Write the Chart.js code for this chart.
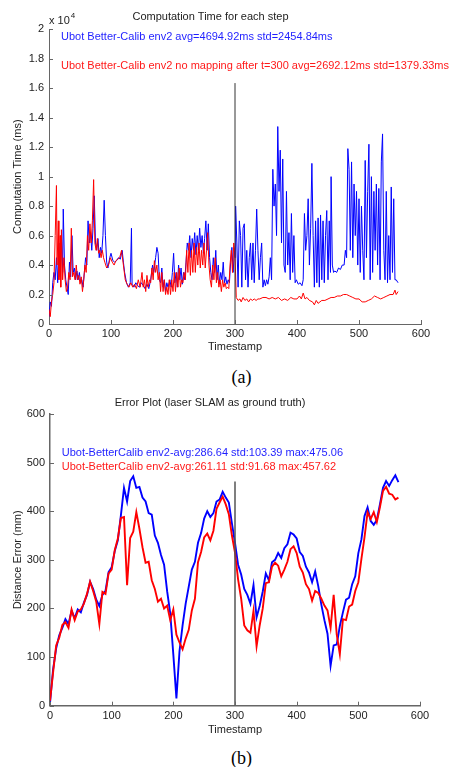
<!DOCTYPE html>
<html><head><meta charset="utf-8">
<script src="https://cdn.jsdelivr.net/npm/chart.js@4.4.1/dist/chart.umd.min.js"></script>
<style>
html,body{margin:0;padding:0;background:#fff;width:449px;height:767px;overflow:hidden;}
.wrap{position:absolute;left:0;width:449px;height:360px;}
.cap{position:absolute;left:17px;width:449px;text-align:center;font-family:"Liberation Serif","Times New Roman",serif;font-size:18px;line-height:20px;color:#000;}
</style></head>
<body>
<div class="wrap" style="top:0"><canvas id="ca" width="449" height="360"></canvas></div>
<div class="cap" style="top:367px">(a)</div>
<div class="wrap" style="top:385px"><canvas id="cb" width="449" height="360"></canvas></div>
<div class="cap" style="top:748px">(b)</div>
<script>
// ---------- DATA ----------
// (a) Computation time per step, [timestamp, ms]
const compBlue = [
[0,500],[2,1500],[4,1200],[6,2800],[8,3500],[10,3000],[12,4500],[14,2800],[16,5500],[18,3200],
[20,6000],[22,3500],[23,7800],[25,4000],[27,3000],[29,2500],[31,2000],[33,4200],[35,3200],[37,6000],
[39,3500],[41,3800],[43,3000],[45,3600],[47,3000],[49,3500],[51,2800],[53,3000],[55,2500],[57,3500],
[59,4500],[61,4000],[63,7000],[65,5500],[67,6200],[69,5000],[71,6500],[73,8700],[75,5500],[77,5000],
[79,5800],[81,4500],[83,5200],[85,4800],[87,6000],[89,8400],[91,6000],[93,4200],[95,3800],[98,4500],
[100,4800],[103,4300],[106,4200],[109,4300],[112,4500],[115,4400],[118,5000],[120,4200],[122,3500],[125,2800],
[128,2500],[131,2800],[133,6500],[134,2700],[137,2500],[140,2800],[143,2600],[146,2500],[149,2800],[152,2600],
[155,2400],[158,2700],[161,2400],[164,3000],[167,4000],[169,3500],[172,4500],[174,5200],[176,4800],[178,3000],
[180,2800],[182,3800],[184,2500],[186,3000],[188,2200],[190,2800],[192,2500],[195,3000],[197,2500],[199,3500],
[201,4800],[203,2800],[205,3500],[207,2500],[209,4000],[211,3000],[213,3800],[215,2700],[217,3500],[219,3000],
[221,4200],[223,5500],[225,5000],[227,6000],[229,4500],[231,5800],[233,5000],[235,6200],[237,4700],[239,6000],
[241,5000],[243,6500],[245,5200],[247,6000],[249,4800],[251,5800],[253,7000],[255,5000],[257,6800],[259,4500],
[261,3500],[263,3000],[265,4500],[267,3500],[269,5000],[271,3000],[273,4000],[275,2800],[277,3500],[279,3000],
[281,4200],[283,2800],[285,3200],[287,2700],[289,3000],[291,2800],[293,4200],[295,5200],[297,3500],[299,5000],
[300,4500],[301,8000],[303,5500],[305,2500],[307,7000],[309,6000],[311,2500],[313,6500],[315,6800],[317,3000],
[319,5000],[321,2500],[323,4500],[325,5500],[327,3000],[329,5500],[331,2800],[333,5000],[335,7800],[337,5000],
[339,3000],[341,4500],[343,5500],[345,2500],[347,3000],[349,2600],[351,3000],[353,2700],[355,3200],[357,4500],
[359,3000],[361,10500],[363,8000],[365,9500],[367,6000],[369,13400],[371,9000],[373,11800],[375,5500],[377,11200],
[379,4000],[381,3500],[383,9000],[385,4000],[387,6200],[389,3000],[391,7500],[393,3500],[395,6000],[397,2800],
[399,3000],[402,2700],[405,2800],[408,2600],[410,3000],[412,7500],[414,5000],[416,6000],[418,8500],[420,4000],
[422,6500],[424,10900],[426,6000],[428,2500],[430,7000],[432,2800],[434,7200],[436,2500],[438,7400],[440,3000],
[442,7000],[444,2800],[446,6000],[448,7700],[450,3000],[452,7000],[454,3500],[455,10000],[457,4000],[459,3500],
[461,3600],[464,3500],[467,3800],[470,3700],[473,4000],[476,4000],[478,5000],[480,4500],[482,11900],[484,10500],
[486,5000],[488,11000],[490,4500],[492,9500],[494,6000],[496,9000],[498,4000],[500,8500],[502,3500],[504,8000],
[506,5000],[508,3000],[510,11100],[512,4500],[514,9000],[516,12200],[518,3000],[520,10000],[522,3500],[524,9000],
[526,5000],[528,9500],[530,4000],[532,9200],[534,3000],[536,11000],[538,12900],[540,5000],[542,3000],[544,9000],
[546,2800],[548,6000],[550,3000],[552,9300],[554,3500],[556,8500],[558,3000],[560,3000],[563,2800]
];
const compRed = [
[0,1000],[2,500],[4,1500],[6,2000],[8,2800],[10,6000],[12,9400],[13,4000],[15,7000],[16,3000],
[18,6000],[19,2500],[20,6400],[22,3000],[24,4500],[26,3000],[28,2200],[30,2500],[32,3500],[34,3000],
[36,6500],[38,3200],[40,3500],[42,3000],[44,4000],[46,3000],[48,3300],[50,2700],[52,3200],[54,2200],
[56,3000],[58,4000],[60,3500],[62,6000],[64,5000],[66,6800],[68,5500],[70,7000],[72,9800],[74,5500],
[76,5000],[78,5800],[80,4800],[82,5000],[84,4500],[86,5000],[88,4500],[90,4200],[93,3800],[96,4000],
[99,4500],[102,4200],[105,4000],[108,4300],[111,4400],[114,4500],[117,5000],[120,4000],[123,3000],[126,2700],
[129,2500],[132,2800],[135,2500],[138,2700],[141,2400],[144,3000],[147,2500],[150,3500],[152,2500],[154,3000],
[156,2200],[158,3300],[160,2500],[162,3000],[164,2800],[166,3800],[168,3000],[170,4300],[172,3500],[174,4000],
[176,3000],[178,3500],[180,2200],[182,3500],[184,2200],[186,3000],[188,2000],[190,2500],[192,2000],[194,3000],
[196,2000],[198,3000],[200,2200],[202,3500],[204,2200],[206,3500],[208,2500],[210,3800],[212,2500],[214,3000],
[216,2800],[218,3500],[220,3000],[222,5000],[224,3500],[226,5500],[228,3300],[230,5000],[232,3500],[234,5500],
[236,3500],[238,5200],[240,4000],[242,5500],[244,3800],[246,5000],[248,4000],[250,5500],[252,3800],[254,5000],
[256,6200],[258,4000],[260,3000],[262,2500],[264,4000],[266,3000],[268,4500],[270,2800],[272,3500],[274,2500],
[276,3000],[278,2200],[280,3000],[282,2500],[284,2800],[286,2400],[288,2500],[290,2400],[292,4000],[294,5000],
[296,3500],[298,5500],[300,4800],[302,1800],[305,1600],[308,1700],[310,1500],[313,1800],[316,1600],[319,1700],
[322,1500],[325,1700],[328,1600],[331,1700],[334,1600],[337,1700],[340,1700],[345,1800],[350,1800],[355,1700],
[360,1800],[365,1700],[370,1800],[375,1600],[380,1700],[385,1600],[390,1800],[395,1700],[400,1700],[404,1900],
[407,1700],[410,2100],[413,1700],[416,1800],[420,1600],[425,1500],[428,1300],[431,1600],[434,1400],[437,1500],
[440,1600],[445,1600],[450,1700],[455,1800],[460,1800],[465,1900],[470,1900],[475,2000],[480,2000],[485,1900],
[490,1800],[495,1700],[500,1700],[505,1500],[510,1500],[515,1600],[520,1700],[525,1900],[530,1800],[535,1700],
[540,1800],[545,1900],[550,2000],[555,2000],[558,2300],[560,2000],[563,2200]
];
// (b) Distance error (mm)
const errT = [
0,5,10,15,20,25,30,35,40,45,50,55,60,65,70,75,80,85,90,95,
100,105,110,115,120,125,130,135,140,145,150,155,160,165,170,175,180,185,190,195,
200,205,210,215,220,225,230,235,240,245,250,255,260,265,270,275,280,285,290,295,
300,305,310,315,320,325,330,335,340,345,350,355,360,365,370,375,380,385,390,395,
400,405,410,415,420,425,430,435,440,445,450,455,460,465,470,475,480,485,490,495,
500,505,510,515,520,525,530,535,540,545,550,555,560,565
];
const errBlue = [
5,75,118,145,160,178,168,195,180,198,192,212,228,255,240,218,205,228,236,275,
285,318,340,392,448,420,462,472,448,450,428,420,396,393,350,335,310,290,235,190,
105,15,112,165,210,245,280,296,335,355,385,400,388,396,420,424,440,428,418,375,
335,290,270,240,228,210,248,182,205,235,272,258,295,300,314,304,324,332,356,352,
344,316,308,286,274,254,276,246,208,176,148,82,124,126,164,192,218,222,250,266,
314,342,390,408,380,372,382,414,448,462,452,464,474,460
];
const errRed = [
10,68,124,140,166,172,160,198,176,194,198,210,230,255,236,214,168,234,230,272,
280,320,344,386,388,248,345,358,398,364,326,294,296,258,240,214,220,200,206,176,
198,146,130,116,138,156,196,220,295,316,346,354,340,360,405,418,430,414,394,350,
315,260,220,165,155,150,195,122,165,200,252,254,286,294,288,266,280,296,322,328,
314,286,274,250,240,216,236,232,220,206,196,160,228,146,106,178,176,204,208,236,
254,302,346,398,384,398,378,408,442,450,436,434,424,428
];
// marker line at t = 300 (top of line in each panel)
const markT = 300;
const markTopA = 16350;
const markTopB = 461;
// tick definitions
const xTicks = [0, 100, 200, 300, 400, 500, 600];
const compTickStep = 2000;   // ms  (shown as x 10^4)
const errTickStep = 100;     // mm
// annotation texts
const notesA = [
  {text:'Ubot Better-Calib env2 avg=4694.92ms std=2454.84ms', color:'#1f1fff', x:19.4, y:19480},
  {text:'Ubot Better-Calib env2 no mapping after t=300 avg=2692.12ms std=1379.33ms', color:'#ff1a1a', x:19.4, y:17510}
];
const notesB = [
  {text:'Ubot-BetterCalib env2-avg:286.64 std:103.39 max:475.06', color:'#1f1fff', x:19, y:520},
  {text:'Ubot-BetterCalib env2-avg:261.11 std:91.68 max:457.62', color:'#ff1a1a', x:19, y:491}
];

// ---------- RENDER ----------
const FONT = '"Liberation Sans", Arial, Helvetica, sans-serif';
Chart.defaults.font.family = FONT;
Chart.defaults.font.size = 11;
Chart.defaults.color = '#222';

const annot = {
  id: 'annot',
  afterDatasetsDraw(chart, args, opts) {
    const ctx = chart.ctx, xs = chart.scales.x, ys = chart.scales.y;
    const a = chart.chartArea;
    ctx.save();
    ctx.strokeStyle = opts.axisColor;
    ctx.lineWidth = 1;
    ctx.beginPath();
    xs.ticks.forEach(t => {
      const px = Math.round(xs.getPixelForValue(t.value)) + 0.5;
      ctx.moveTo(px, a.bottom); ctx.lineTo(px, a.bottom - 4);
    });
    ys.ticks.forEach(t => {
      const py = Math.round(ys.getPixelForValue(t.value)) + 0.5;
      ctx.moveTo(a.left, py); ctx.lineTo(a.left + 4, py);
    });
    ctx.stroke();
    ctx.textBaseline = 'middle';
    ctx.textAlign = 'left';
    ctx.font = '11px ' + FONT;
    opts.notes.forEach(n => {
      ctx.fillStyle = n.color;
      ctx.fillText(n.text, xs.getPixelForValue(n.x), ys.getPixelForValue(n.y));
    });
    if (opts.exponent) {
      ctx.fillStyle = '#222';
      ctx.font = '11px ' + FONT;
      ctx.fillText('x 10', a.left, a.top - 8);
      const w = ctx.measureText('x 10').width;
      ctx.font = '8px ' + FONT;
      ctx.fillText('4', a.left + w + 1, a.top - 14);
    }
    ctx.restore();
  }
};

function pairs(arr) { return arr.map(p => ({x: p[0], y: p[1]})); }
function zipXY(xs, ys) { return xs.map((x, i) => ({x: x, y: ys[i]})); }

function makeChart(id, cfg) {
  return new Chart(document.getElementById(id), {
    type: 'line',
    data: { datasets: [
      { data: [{x: markT, y: 0}, {x: markT, y: cfg.markTop}], borderColor: cfg.markColor, borderWidth: cfg.markWidth, order: 0 },
      { data: cfg.red, borderColor: '#ff0000', borderWidth: cfg.lw, order: 1 },
      { data: cfg.blue, borderColor: '#0000ff', borderWidth: cfg.lw, order: 2 }
    ]},
    options: {
      responsive: false,
      animation: false,
      events: [],
      layout: { padding: { left: 0, right: cfg.padRight, top: 0, bottom: 0 } },
      elements: { point: { radius: 0 }, line: { tension: 0, fill: false, borderJoinStyle: 'miter' } },
      plugins: {
        legend: { display: false },
        tooltip: { enabled: false },
        title: { display: true, text: cfg.title, color: '#222', font: { size: 11, weight: 'normal' }, padding: cfg.titlePad },
        annot: { notes: cfg.notes, axisColor: cfg.axisColor, exponent: cfg.exponent }
      },
      scales: {
        x: {
          type: 'linear', min: 0, max: 600,
          afterBuildTicks: s => { s.ticks = xTicks.map(v => ({value: v})); },
          ticks: { padding: cfg.xTickPad, color: '#222', font: { size: 11 }, maxRotation: 0 },
          grid: { display: false, drawTicks: false, tickLength: 0 },
          border: { display: true, color: cfg.axisColor, width: cfg.axisWidth },
          title: { display: true, text: 'Timestamp', color: '#222', font: { size: 11 }, padding: { top: 0, bottom: cfg.xTitlePadBottom } },
          afterFit: s => { s.height = cfg.xHeight; }
        },
        y: {
          type: 'linear', min: 0, max: cfg.yMax,
          ticks: { stepSize: cfg.yStep, padding: 5, color: '#222', font: { size: 11 }, callback: cfg.yFmt },
          grid: { display: false, drawTicks: false, tickLength: 0 },
          border: { display: true, color: cfg.axisColor, width: cfg.axisWidth },
          title: { display: true, text: cfg.yTitle, color: '#222', font: { size: 11 }, padding: { top: 11, bottom: 0 } },
          afterFit: s => { s.width = cfg.yWidth; }
        }
      }
    },
    plugins: [annot]
  });
}

makeChart('ca', {
  title: 'Computation Time for each step',
  titlePad: { top: 10.4, bottom: 5.7 },
  red: pairs(compRed), blue: pairs(compBlue), lw: 1,
  markTop: markTopA, markColor: '#333', markWidth: 1,
  yMax: 20000, yStep: compTickStep,
  yFmt: v => String(+(v / 10000).toFixed(1)),
  yTitle: 'Computation Time (ms)',
  yWidth: 49, xHeight: 36, padRight: 28, xTickPad: 3, xTitlePadBottom: 6.4,
  axisColor: '#666', axisWidth: 1,
  notes: notesA, exponent: true
});

makeChart('cb', {
  title: 'Error Plot (laser SLAM as ground truth)',
  titlePad: { top: 11.4, bottom: 4.4 },
  red: zipXY(errT, errRed), blue: zipXY(errT, errBlue), lw: 1.9,
  markTop: markTopB, markColor: '#555', markWidth: 1.5,
  yMax: 600, yStep: errTickStep,
  yFmt: v => String(v),
  yTitle: 'Distance Error (mm)',
  yWidth: 50, xHeight: 39.3, padRight: 29, xTickPad: 4, xTitlePadBottom: 8.4,
  axisColor: '#666', axisWidth: 1.5,
  notes: notesB, exponent: false
});
</script>
</body></html>
